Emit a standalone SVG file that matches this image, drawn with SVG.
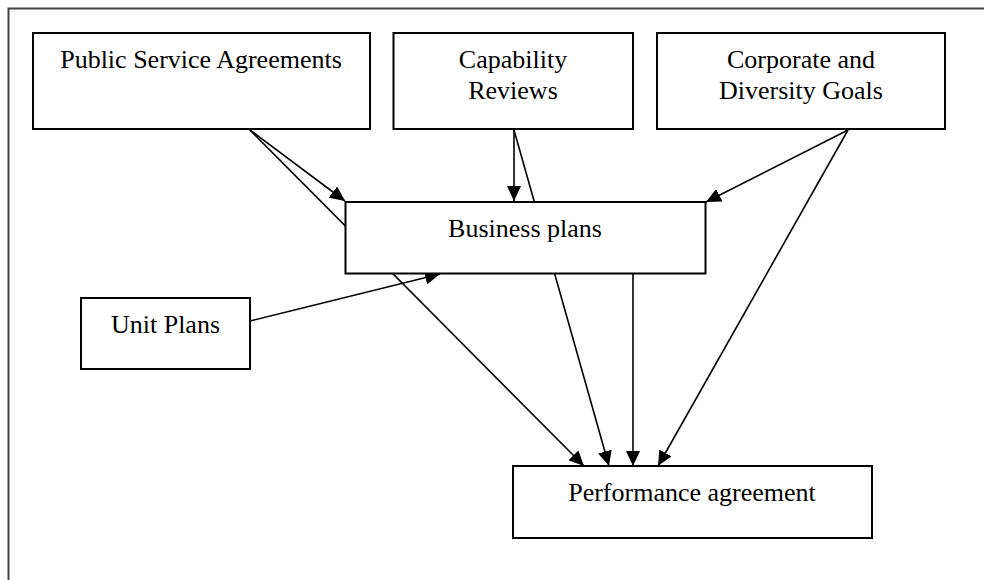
<svg xmlns="http://www.w3.org/2000/svg" width="984" height="580" viewBox="0 0 984 580">
<style>
.box{fill:#fff;stroke:#000;stroke-width:2}
.lbl{font-family:"Liberation Serif","Times New Roman",serif;font-size:26px;fill:#000;text-anchor:middle}
.edge{stroke:#000;stroke-width:1.6;fill:none}
.arr{marker-end:url(#ah)}
</style>
<defs>
<marker id="ah" markerUnits="userSpaceOnUse" markerWidth="16" markerHeight="14" refX="15" refY="7" orient="auto">
<path d="M0,0 L15,7 L0,14 z" fill="#000"/>
</marker>
</defs>
<rect x="8.5" y="8.5" width="1000" height="620" fill="#fff" stroke="#444" stroke-width="2"/>
<g id="connectors">
<line class="edge arr" x1="250" y1="130" x2="345" y2="201"/>
<line class="edge arr" x1="250" y1="130" x2="584" y2="466"/>
<line class="edge arr" x1="514" y1="130" x2="514" y2="201"/>
<line class="edge arr" x1="514" y1="130" x2="609" y2="466"/>
<line class="edge arr" x1="848" y1="130" x2="706" y2="202"/>
<line class="edge arr" x1="848" y1="130" x2="658" y2="466"/>
<line class="edge arr" x1="250" y1="321" x2="440" y2="274"/>
<line class="edge arr" x1="633" y1="274" x2="633" y2="466"/>
</g>
<g id="psa">
<rect class="box" x="33" y="33" width="337" height="96"/>
<text class="lbl" x="201" y="68">Public Service Agreements</text>
</g>
<g id="capability">
<rect class="box" x="393.5" y="33" width="239.5" height="96"/>
<text class="lbl" x="513" y="68">Capability</text>
<text class="lbl" x="513" y="99">Reviews</text>
</g>
<g id="corporate">
<rect class="box" x="657" y="33" width="288" height="96"/>
<text class="lbl" x="801" y="68">Corporate and</text>
<text class="lbl" x="801" y="99">Diversity Goals</text>
</g>
<g id="business">
<rect class="box" x="345.5" y="202" width="360" height="71.5"/>
<text class="lbl" x="525" y="237">Business plans</text>
</g>
<g id="unit">
<rect class="box" x="81" y="298" width="169" height="71"/>
<text class="lbl" x="165.5" y="333">Unit Plans</text>
</g>
<g id="performance">
<rect class="box" x="513" y="466" width="359" height="72"/>
<text class="lbl" x="692" y="501">Performance agreement</text>
</g>
</svg>
